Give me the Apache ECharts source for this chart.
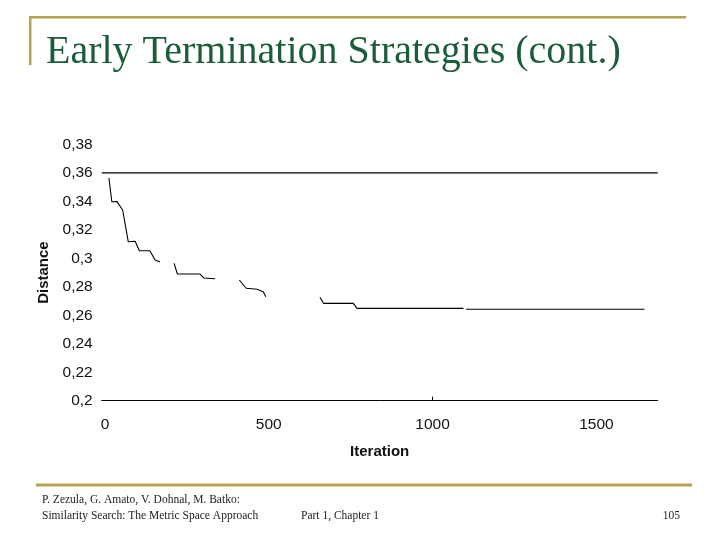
<!DOCTYPE html>
<html>
<head>
<meta charset="utf-8">
<script src="https://cdn.jsdelivr.net/npm/echarts@6/dist/echarts.min.js"></script>
<style>
html,body{margin:0;padding:0;background:#fff;}
#chart{width:720px;height:540px;}
</style>
</head>
<body>
<div id="chart"></div>
<script>
// Data (null = break in the drawn line)
const iterations = [12, 21, 36, 54, 71, 92, 105, 137, 153, 168, 190,
                    211, 221, 290, 302, 336, 373,
                    410, 431, 464, 483, 491, 570,
                    656, 667, 758, 769, 1094, 1098,
                    1102, 1647];
const distances  = [0.3565, 0.3398, 0.340, 0.334, 0.3117, 0.312, 0.3054, 0.3054, 0.2989, 0.2975, null,
                    0.2965, 0.289, 0.289, 0.2862, 0.2857, null,
                    0.2848, 0.279, 0.2783, 0.2766, 0.2731, null,
                    0.2727, 0.2684, 0.2684, 0.2649, 0.2649, null,
                    0.2642, 0.2642];
const thresholdX = [-10, 1687];
const thresholdY = [0.36, 0.36];
const xTicks = [0, 500, 1000, 1500];
const yTicks = [0.2, 0.22, 0.24, 0.26, 0.28, 0.3, 0.32, 0.34, 0.36, 0.38];
const xMin = -10, xMax = 1687, yMin = 0.2, yMax = 0.38;

const lineData = iterations.map((x, i) => [x, distances[i] === null ? '-' : distances[i]]);
const threshData = thresholdX.map((x, i) => [x, thresholdY[i]]);

const chart = echarts.init(document.getElementById('chart'), null, {renderer: 'canvas'});
const fmt = v => String(Math.round(v * 100) / 100).replace('.', ',');

chart.setOption({
  backgroundColor: '#ffffff',
  animation: false,
  title: {
    text: 'Early Termination Strategies (cont.)',
    left: 41, top: 27,
    textStyle: {fontFamily: 'Liberation Serif', fontSize: 40, fontWeight: 'normal', color: '#1b5c3a'}
  },
  grid: {left: 101.7, right: 62.3, top: 144.5, bottom: 139.3, containLabel: false},
  xAxis: {
    type: 'value', min: xMin, max: xMax,
    name: 'Iteration', nameLocation: 'middle', nameGap: 44,
    nameTextStyle: {fontFamily: 'Liberation Sans', fontSize: 15, fontWeight: 'bold', color: '#111'},
    axisLine: {show: true, onZero: false, lineStyle: {color: '#000', width: 1}},
    axisTick: {show: true, inside: true, length: 4, customValues: [1000], lineStyle: {color: '#000'}},
    splitLine: {show: false},
    axisLabel: {customValues: xTicks, fontFamily: 'Liberation Sans', fontSize: 15.5, color: '#111', margin: 16,
                formatter: v => String(v)}
  },
  yAxis: {
    type: 'value', min: yMin, max: yMax,
    name: 'Distance', nameLocation: 'middle', nameGap: 43, nameRotate: 90,
    nameTextStyle: {fontFamily: 'Liberation Sans', fontSize: 15, fontWeight: 'bold', color: '#111'},
    axisLine: {show: false}, axisTick: {show: false}, splitLine: {show: false},
    axisLabel: {customValues: yTicks, fontFamily: 'Liberation Sans', fontSize: 15.5, color: '#111', margin: 9,
                formatter: fmt}
  },
  series: [
    {type: 'line', data: threshData, symbol: 'none', silent: true,
     lineStyle: {color: '#000', width: 1.2}},
    {type: 'line', data: lineData, symbol: 'none', connectNulls: false,
     lineStyle: {color: '#000', width: 1.1}}
  ],
  graphic: [
    {type: 'rect', shape: {x: 30, y: 16, width: 656, height: 2.5}, style: {fill: '#b5a24a'}},
    {type: 'rect', shape: {x: 29, y: 16, width: 2.5, height: 49}, style: {fill: '#b5a24a'}},
    {type: 'rect', shape: {x: 36, y: 483.5, width: 656, height: 3}, style: {fill: '#b5a24a'}},
    {type: 'text', left: 42, top: 494, style: {text: 'P. Zezula, G. Amato, V. Dohnal, M. Batko:', font: '11.5px "Liberation Serif"', fill: '#222'}},
    {type: 'text', left: 42, top: 510, style: {text: 'Similarity Search: The Metric Space Approach', font: '11.5px "Liberation Serif"', fill: '#222'}},
    {type: 'text', left: 301, top: 510, style: {text: 'Part 1, Chapter 1', font: '11.5px "Liberation Serif"', fill: '#222'}},
    {type: 'text', right: 40, top: 510, style: {text: '105', font: '11.5px "Liberation Serif"', fill: '#222'}}
  ]
});
</script>
</body>
</html>
